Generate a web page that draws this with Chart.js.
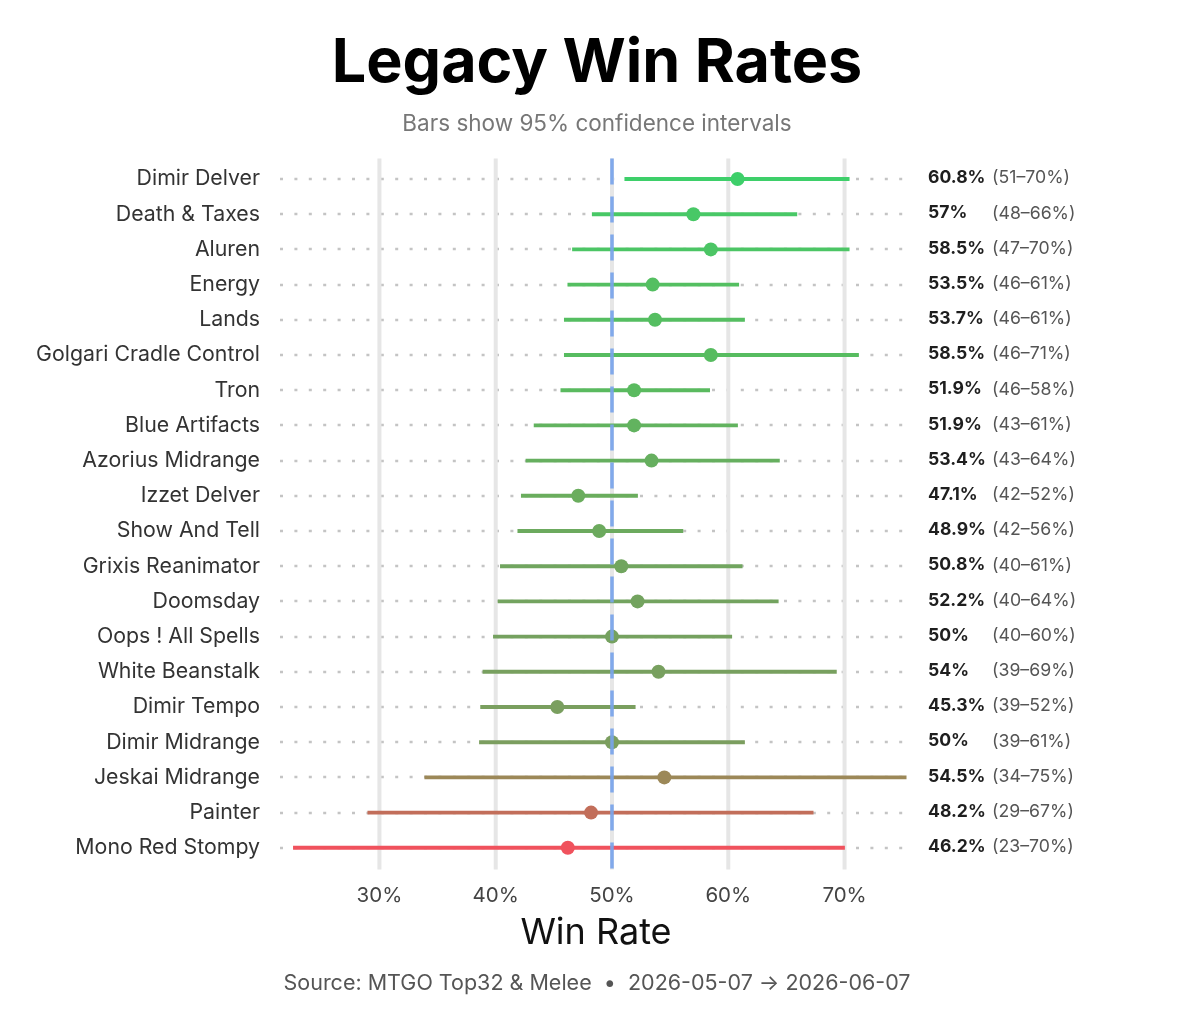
<!DOCTYPE html>
<html>
<head>
<meta charset="utf-8">
<script src="https://cdn.jsdelivr.net/npm/chart.js@4.4.1/dist/chart.umd.min.js"></script>
<style>
  html, body { margin: 0; padding: 0; background: #ffffff; }
  #wrap { width: 1200px; height: 1029px; position: relative; }
</style>
</head>
<body>
<div id="wrap"><canvas id="c" width="1200" height="1029"></canvas></div>
<script>
const categories = [
  "Dimir Delver", "Death & Taxes", "Aluren", "Energy", "Lands",
  "Golgari Cradle Control", "Tron", "Blue Artifacts", "Azorius Midrange", "Izzet Delver",
  "Show And Tell", "Grixis Reanimator", "Doomsday", "Oops ! All Spells", "White Beanstalk",
  "Dimir Tempo", "Dimir Midrange", "Jeskai Midrange", "Painter", "Mono Red Stompy"
];
const winRates = [60.8, 57, 58.5, 53.5, 53.7, 58.5, 51.9, 51.9, 53.4, 47.1,
                  48.9, 50.8, 52.2, 50, 54, 45.3, 50, 54.5, 48.2, 46.2];
const ciLow  = [51.1, 48.3, 46.6, 46.2, 45.9, 45.9, 45.6, 43.3, 42.6, 42.2,
                41.9, 40.4, 40.2, 39.8, 38.9, 38.7, 38.6, 33.9, 29.0, 22.6];
const ciHigh = [70.4, 65.9, 70.4, 60.9, 61.4, 71.2, 58.4, 60.8, 64.4, 52.2,
                56.1, 61.2, 64.3, 60.3, 69.3, 52.0, 61.4, 75.3, 67.3, 70.0];
const xTickValues = [30, 40, 50, 60, 70];
const rowColors = [
  "#3ecf6a", "#48c866", "#4cc565", "#54bf61", "#55be61",
  "#57bc60", "#5aba5f", "#62b35f", "#66af5f", "#6aad5d",
  "#6caa5e", "#71a55f", "#73a35f", "#75a15f", "#78a05f",
  "#7a9f5f", "#7b9e5f", "#9c8858", "#c26e5a", "#f0525d"
];

const FONT = "Inter, 'Noto Sans', 'DejaVu Sans', sans-serif";

const guidesPlugin = {
  id: 'guides',
  beforeDatasetsDraw(chart) {
    const { ctx, chartArea: a, scales: { x, y } } = chart;
    ctx.save();
    ctx.strokeStyle = '#c4c4c4';
    ctx.lineWidth = 2.5;
    ctx.setLineDash([3, 11.4]);
    categories.forEach((c, i) => {
      const py = Math.round(y.getPixelForValue(i));
      ctx.beginPath();
      ctx.moveTo(a.left, py);
      ctx.lineTo(a.right, py);
      ctx.stroke();
    });
    ctx.setLineDash([]);
    ctx.strokeStyle = '#e6e6e6';
    ctx.lineWidth = 4;
    xTickValues.forEach(v => {
      const px = x.getPixelForValue(v);
      ctx.beginPath();
      ctx.moveTo(px, a.top - 3);
      ctx.lineTo(px, a.bottom + 4);
      ctx.stroke();
    });
    ctx.restore();
  },
  afterDatasetsDraw(chart) {
    const { ctx, chartArea: a, scales: { x } } = chart;
    const px = x.getPixelForValue(50);
    ctx.save();
    ctx.strokeStyle = 'rgba(120,164,236,0.92)';
    ctx.lineWidth = 3.5;
    ctx.setLineDash([26, 12]);
    ctx.beginPath();
    ctx.moveTo(px, a.top - 3);
    ctx.lineTo(px, a.bottom + 4);
    ctx.stroke();
    ctx.restore();
  },
  afterDraw(chart) {
    const { ctx, chartArea: a, scales: { y } } = chart;
    ctx.save();
    categories.forEach((c, i) => {
      const py = y.getPixelForValue(i) - 1;
      ctx.textBaseline = 'middle';
      ctx.textAlign = 'left';
      ctx.fillStyle = '#1e1e1e';
      ctx.font = `bold 17.6px ${FONT}`;
      ctx.fillText(winRates[i] + '%', 928, py);
      ctx.fillStyle = '#555555';
      ctx.font = `17.7px ${FONT}`;
      ctx.fillText('(' + Math.round(ciLow[i]) + '\u2013' + Math.round(ciHigh[i]) + '%)', 992, py);
    });
    const cx = (a.left + a.right) / 2 + 1;
    ctx.textAlign = 'center';
    ctx.textBaseline = 'alphabetic';
    ctx.fillStyle = '#000000';
    ctx.font = `bold 61px ${FONT}`;
    ctx.fillText('Legacy Win Rates', cx, 82);
    ctx.fillStyle = '#777777';
    ctx.font = `22.5px ${FONT}`;
    ctx.fillText('Bars show 95% confidence intervals', cx, 131);
    ctx.fillStyle = '#555555';
    ctx.font = `21.5px ${FONT}`;
    ctx.fillText('Source: MTGO Top32 & Melee  \u2022  2026-05-07 \u2192 2026-06-07', cx, 990);
    ctx.restore();
  }
};

function build() {
  new Chart(document.getElementById('c'), {
    type: 'bar',
    data: {
      labels: categories,
      datasets: [
        {
          type: 'bar',
          label: '95% CI',
          data: categories.map((c, i) => [ciLow[i], ciHigh[i]]),
          backgroundColor: rowColors,
          borderWidth: 0,
          barThickness: 3.2,
          order: 2
        },
        {
          type: 'line',
          label: 'Win rate',
          indexAxis: 'y',
          data: winRates,
          showLine: false,
          pointRadius: 7,
          pointHoverRadius: 7,
          pointBackgroundColor: rowColors,
          pointBorderWidth: 0,
          order: 1
        }
      ]
    },
    options: {
      indexAxis: 'y',
      responsive: false,
      animation: false,
      devicePixelRatio: 1,
      layout: { padding: { top: 161.4, right: 288, bottom: 0, left: 0 } },
      plugins: {
        legend: { display: false },
        tooltip: { enabled: false },
        title: { display: false }
      },
      scales: {
        x: {
          type: 'linear',
          position: 'bottom',
          min: 21.45,
          max: 75.8,
          grid: { display: false, drawTicks: false },
          border: { display: false },
          afterBuildTicks: s => { s.ticks = xTickValues.map(v => ({ value: v })); },
          afterFit: s => { s.height = 1029 - 865.4; },
          ticks: {
            padding: 18.5,
            color: '#444444',
            font: { family: FONT, size: 20.5 },
            callback: v => v + '%'
          },
          title: {
            display: true,
            text: 'Win Rate',
            color: '#111111',
            font: { family: FONT, size: 36 },
            padding: { top: 0, bottom: 74.5 }
          }
        },
        y: {
          type: 'category',
          position: 'left',
          offset: true,
          grid: { display: false, drawTicks: false },
          border: { display: false },
          afterFit: s => { s.width = 280; },
          ticks: {
            padding: 20,
            color: '#333333',
            font: { family: FONT, size: 21.3 }
          }
        }
      }
    },
    plugins: [guidesPlugin]
  });
}

const loads = ['bold 61px Inter', '22px Inter', 'bold 17px Inter', '17px Inter', '36px Inter', '20px Inter']
  .map(f => document.fonts ? document.fonts.load(f).catch(() => null) : Promise.resolve());
Promise.all(loads).then(build, build);
</script>
</body>
</html>
